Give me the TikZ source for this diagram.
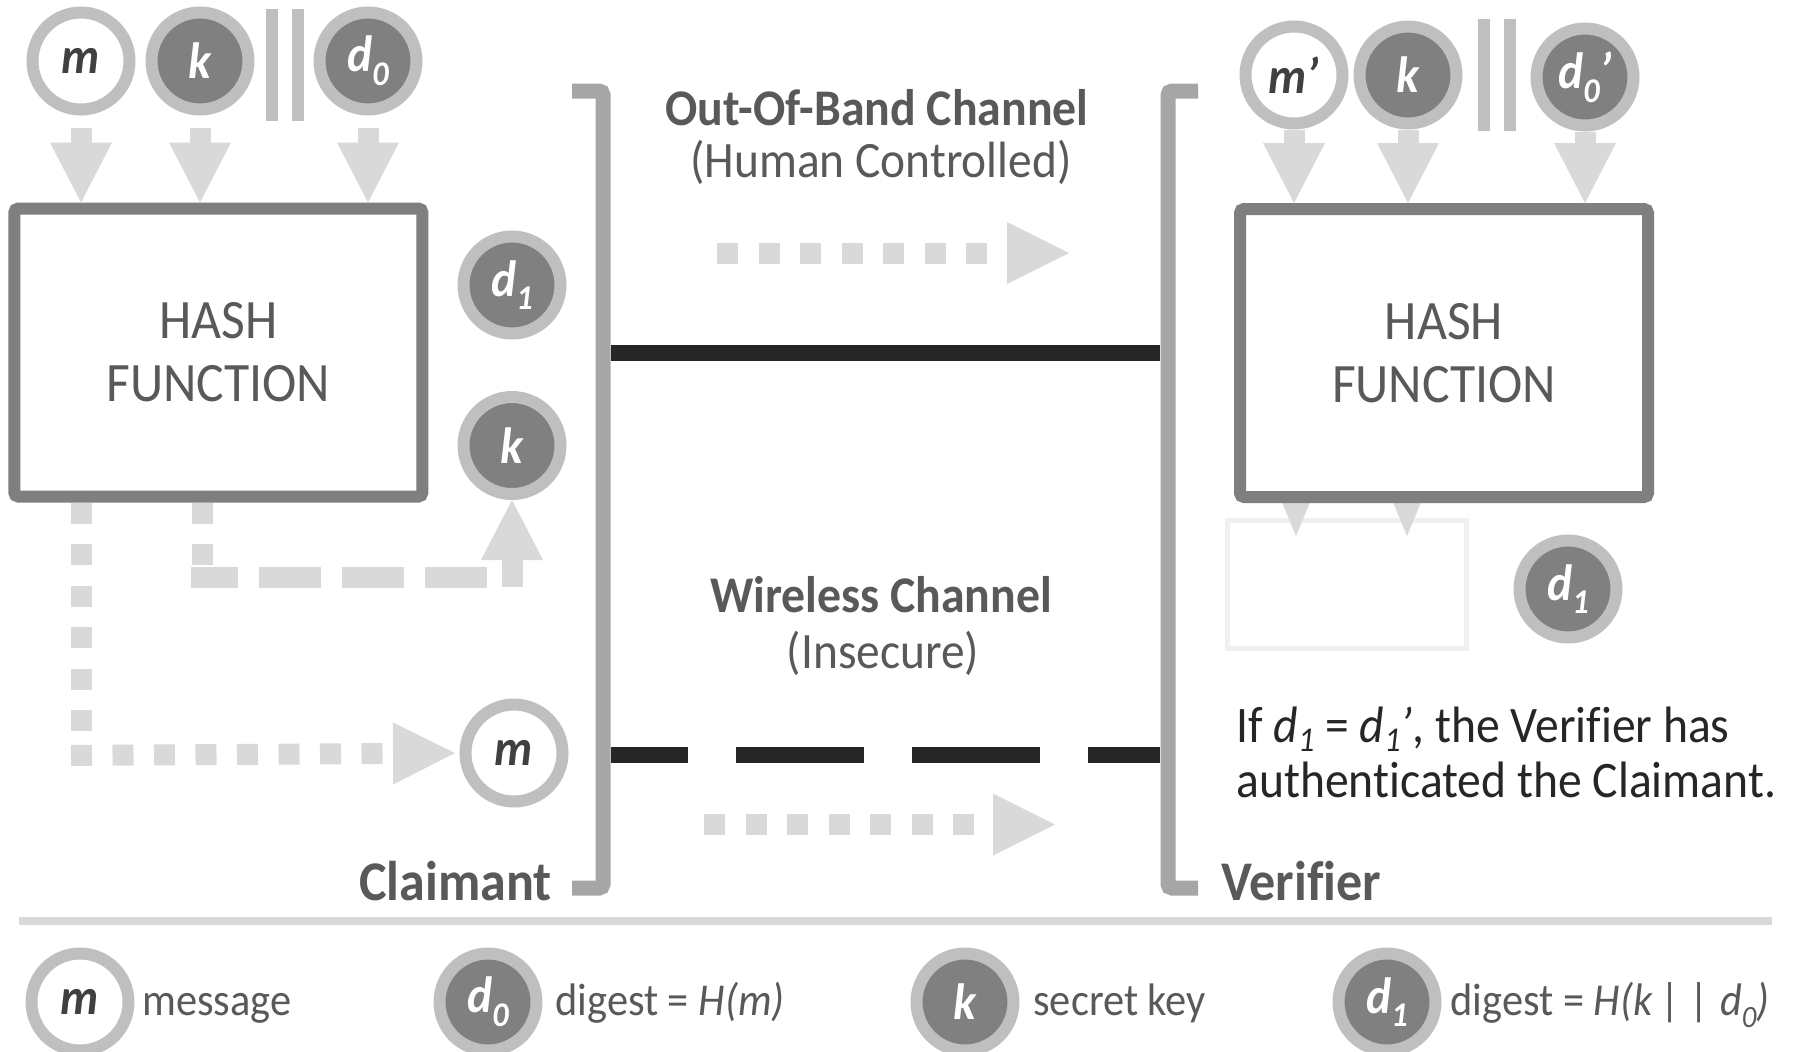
\documentclass[tikz,border=0pt]{standalone}
\usepackage{fontspec}
\setmainfont{Carlito}[FakeStretch=0.93, Ligatures={NoCommon,NoContextual}]
\usepackage{graphicx}
\usetikzlibrary{arrows.meta}
\definecolor{ringgray}{HTML}{BFBFBF}
\definecolor{fillgray}{HTML}{808080}
\definecolor{boxgray}{HTML}{7F7F7F}
\definecolor{brgray}{HTML}{A6A6A6}
\definecolor{argray}{HTML}{D9D9D9}
\definecolor{chanblack}{HTML}{262626}
\definecolor{txtgray}{HTML}{595959}
\definecolor{mgray}{HTML}{404040}
\definecolor{faintgray}{HTML}{F0F0F0}
\definecolor{notegray}{HTML}{262626}
\newcommand\lowsub[1]{\raisebox{-0.27em}{\scalebox{0.68}{#1}}}
\newcommand\notesub[1]{\raisebox{-0.18em}{\scalebox{0.68}{#1}}}
\newcommand\myfs[2]{\fontsize{#1}{#2}\selectfont}
\tikzset{
  ring/.style={circle, line width=6pt, draw=ringgray, minimum size=48.5pt, inner sep=0pt,
    font=\myfs{25.5pt}{30pt}\bfseries\itshape},
  lightc/.style={ring, fill=white, text=mgray},
  darkc/.style={ring, fill=fillgray, text=white},
  hashbox/.style={draw=boxgray, fill=white, line width=6pt, rounded corners=2pt,
    minimum width=204pt, minimum height=144pt, align=center, text=txtgray,
    font=\myfs{27.8pt}{31.5pt}},
  tip/.style={-{Triangle[width=31pt,length=30pt,line width=0pt]}},
  fatarrow/.style={draw=argray, line width=10.5pt, tip},
  dotline/.style={draw=argray, line width=10.5pt, dash pattern=on 10.5pt off 10.25pt},
  dotarrow/.style={dotline, -{Triangle[width=31pt,length=31pt,line width=0pt]}},
  dashline/.style={draw=argray, line width=10.5pt, dash pattern=on 31pt off 10.5pt, dash phase=7.5pt},
  chan/.style={draw=chanblack, line width=8pt},
  bracket/.style={draw=brgray, line width=7.5pt, rounded corners=2pt},
  catbar/.style={draw=ringgray, line width=6pt},
  titleb/.style={inner sep=0pt, text=txtgray, font=\myfs{25.7pt}{30pt}\bfseries},
  titler/.style={inner sep=0pt, text=txtgray, font=\myfs{25.5pt}{30pt}},
  roleb/.style={inner sep=0pt, text=txtgray, font=\myfs{28pt}{32pt}\bfseries},
  notetxt/.style={inner sep=0pt, text=notegray, font=\myfs{25.6pt}{27.5pt}},
  legtxt/.style={inner sep=0pt, text=txtgray, font=\myfs{22.8pt}{27pt}},
}
\begin{document}
\begin{tikzpicture}[x=0.5pt,y=-0.5pt]
\useasboundingbox (0,0) rectangle (1793,1051);
\clip (0,0) rectangle (1793,1051);
\fill[white] (0,0) rectangle (1793,1051);

% ---------- Claimant ----------
\node[lightc] (cm) at (81,61) {m};
\node[darkc] (ck) at (200,61) {k};
\draw[catbar] (272,9) -- (272,121);
\draw[catbar] (297.5,9) -- (297.5,121);
\node[darkc] (cd0) at (368,61) {d\lowsub{0}};

\node[hashbox] (chash) at (218.35,352.5) {HASH\\FUNCTION};

\draw[fatarrow] ([yshift=-6.25pt]cm.south) -- (cm.south |- chash.north);
\draw[fatarrow] ([yshift=-6.25pt]ck.south) -- (ck.south |- chash.north);
\draw[fatarrow] ([yshift=-6.25pt]cd0.south) -- (cd0.south |- chash.north);

\node[darkc] (cd1) at (512,285) {d\lowsub{1}};
\node[darkc] (ck2) at (512,445.5) {k};
\node[lightc] (cm2) at (514,753) {m};

% dotted: hash -> m
\coordinate (cc1) at (81,755.5);
\draw[dotline] (chash.south -| cc1) -- ([yshift=5pt]cc1);
\draw[dotarrow, shorten >=2.25pt] ([xshift=-5pt]cc1) -- (cm2.west);

% dashed: hash -> k
\coordinate (cc2) at (202,577);
\coordinate (cc3) at (512,577);
\draw[dotline] (chash.south -| cc2) -- ([yshift=5.5pt]cc2);
\draw[dashline] ([xshift=-5.5pt]cc2) -- ([xshift=-5pt]cc3);
\draw[fatarrow] ([yshift=-5pt]cc3) -- (ck2.south);

% ---------- Channels ----------
\coordinate (lch1) at (611,353);
\coordinate (rch1) at (1160,353);
\draw[chan] (lch1) -- (rch1);
\coordinate (lch2) at (611,754.5);
\coordinate (rch2) at (1160,754.5);
\draw[chan, dash pattern=on 64pt off 24pt, dash phase=25.5pt] (lch2) -- (rch2);

\draw[bracket] (572,91) -- (603,91) -- (603,888) -- (572,888);
\draw[bracket] (1198,91) -- (1168,91) -- (1168,888) -- (1198,888);

\node[titleb, anchor=base] (oobt) at (877,125) {Out-Of-Band Channel};
\node[titler, anchor=base] (oobs) at (881,177) {(Human Controlled)};
\coordinate (oa1) at (717,253);
\coordinate (oa2) at (1069,253);
\draw[dotarrow] (oa1) -- (oa2);

\node[titleb, anchor=base] (wlt) at (881,612) {Wireless Channel};
\node[titler, anchor=base] (wls) at (883,668) {(Insecure)};
\coordinate (wa1) at (704,824.5);
\coordinate (wa2) at (1055,824.5);
\draw[dotarrow] (wa1) -- (wa2);

\node[roleb, anchor=base east] (claim) at (552,900) {Claimant};
\node[roleb, anchor=base west] (verif) at (1221,900) {Verifier};

% ---------- Verifier ----------
\node[lightc] (vm) at (1294,75) {m’};
\node[darkc] (vk) at (1408,75) {k};
\draw[catbar] (1484,19) -- (1484,131);
\draw[catbar] (1509.5,19) -- (1509.5,131);
\node[darkc] (vd0) at (1585,77) {d\lowsub{0}’};

\draw[draw=faintgray, line width=2.5pt] (1227.5,520.5) rectangle (1466.5,648.5);
\fill[argray] (1279,495) -- (1313,495) -- (1296,536) -- cycle;
\fill[argray] (1390,495) -- (1424,495) -- (1407,536) -- cycle;

\node[hashbox] (vhash) at (1444,353) {HASH\\FUNCTION};

\draw[fatarrow] (vm.south) -- (vm.south |- vhash.north);
\draw[fatarrow] (vk.south) -- (vk.south |- vhash.north);
\draw[fatarrow] (vd0.south) -- (vd0.south |- vhash.north);

\node[darkc] (vd1) at (1568,589) {d\lowsub{1}};

\node[notetxt, anchor=base west] (note1) at (1236,742)
  {If \textit{d\notesub{1}} = \textit{d\notesub{1}’}, the Verifier has};
\node[notetxt, anchor=base west] (note2) at (1236,797) {authenticated the Claimant.};

% ---------- Legend ----------
\draw[draw=argray, line width=4pt] (19,921) -- (1772,921);

\node[lightc] (lm) at (80,1002) {m};
\node[legtxt, anchor=base west] (lmt) at (142,1015) {message};
\node[darkc] (ld0) at (488,1002) {d\lowsub{0}};
\node[legtxt, anchor=base west] (ld0t) at (555,1015) {digest = \textit{H(m)}};
\node[darkc] (lk) at (965,1002) {k};
\node[legtxt, anchor=base west] (lkt) at (1033,1015) {secret key};
\node[darkc] (ld1) at (1387,1002) {d\lowsub{1}};
\node[legtxt, anchor=base west] (ld1t) at (1450,1015) {digest = \textit{H(k | | d\lowsub{0})}};
\end{tikzpicture}
\end{document}
